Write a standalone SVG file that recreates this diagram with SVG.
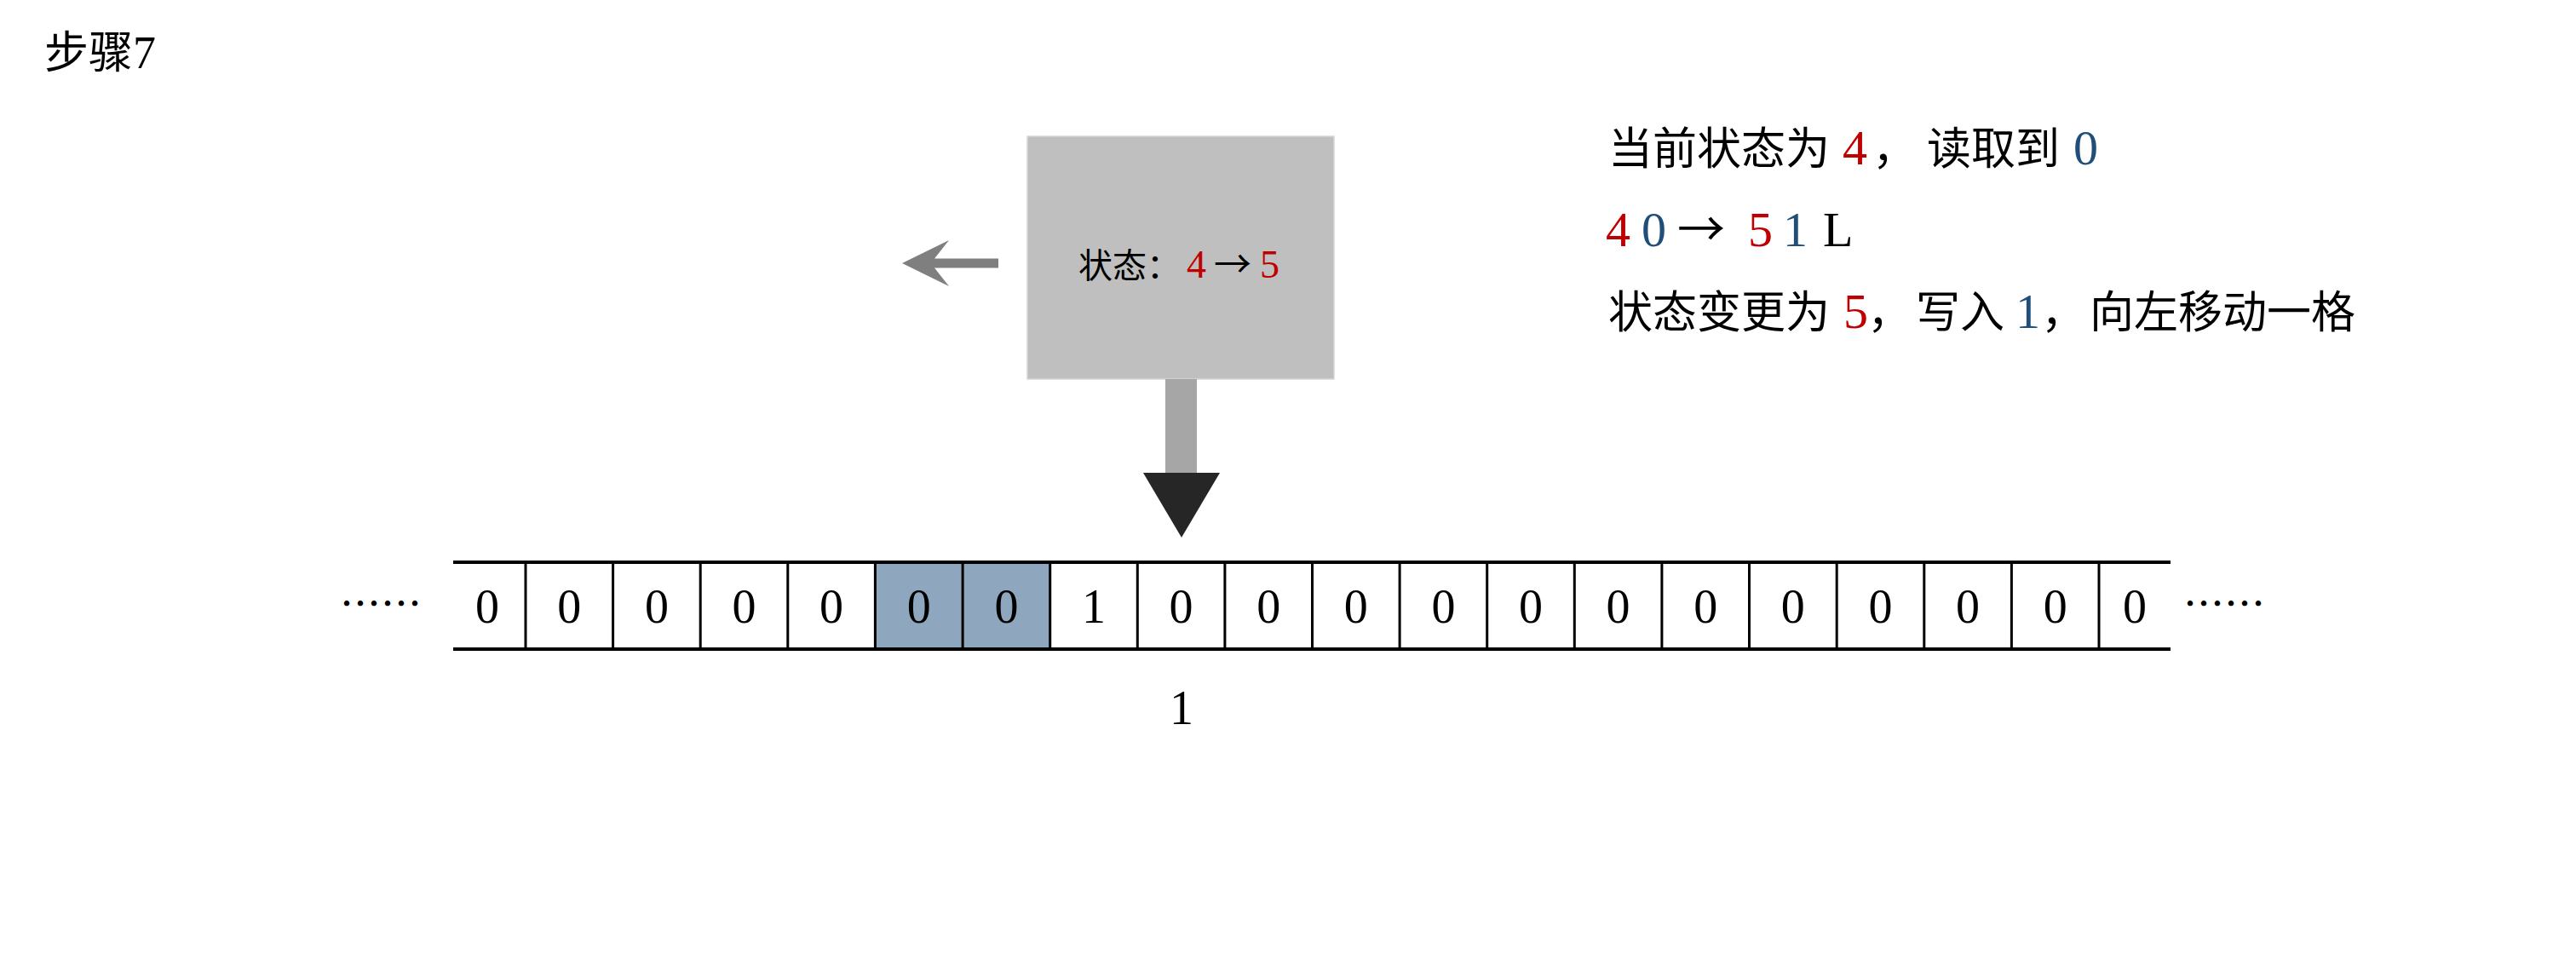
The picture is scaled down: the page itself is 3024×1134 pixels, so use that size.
<svg xmlns="http://www.w3.org/2000/svg" width="3024" height="1134" viewBox="0 0 3024 1134">
<style>
.cjk{font-family:"Noto Sans CJK SC","Noto Sans CJK TC",sans-serif;fill:#000}
.num{font-family:"Liberation Serif","Noto Sans CJK SC",serif;fill:#000}
.red{fill:#c00000}
.blue{fill:#1f4e79}
.cell{font-family:"Liberation Serif",serif;font-size:56px;text-anchor:middle;fill:#000}
.tapeh{stroke:#000;stroke-width:4;fill:none}
.div{stroke:#000;stroke-width:3;fill:none}
.dots{font-family:"Noto Sans CJK SC",sans-serif;font-size:48px;text-anchor:middle;fill:#000}
</style>
<rect x="0" y="0" width="3024" height="1134" fill="#ffffff"/>

<g id="title">
<text x="52" y="80" class="cjk" font-size="52">步骤<tspan class="num" font-size="54">7</tspan></text>
</g>

<g id="head">
<rect x="1206" y="160" width="360" height="285" fill="#bfbfbf" stroke="#d6d6d6" stroke-width="1.5"/>
<text y="326"><tspan class="cjk" x="1266" font-size="40">状态：</tspan><tspan class="num red" x="1393" font-size="46">4</tspan><tspan class="cjk" x="1425" font-size="44">→</tspan><tspan class="num red" x="1479" font-size="46">5</tspan></text>
</g>

<g id="connectors">
<polygon id="move-left" points="1059,309 1114,282 1097,303.5 1172,303.5 1172,314.5 1097,314.5 1114,336" fill="#7f7f7f"/>
<g id="read-arrow">
<rect x="1368" y="445" width="37" height="110" fill="#a6a6a6"/>
<polygon points="1342,555 1432,555 1387,631" fill="#262626"/>
</g>
</g>

<g id="explanation">
<text y="193"><tspan class="cjk" x="1888" font-size="52">当前状态为</tspan><tspan class="num red" x="2163" font-size="58">4</tspan><tspan class="cjk" x="2198" font-size="52">，</tspan><tspan class="cjk" x="2262" font-size="52">读取到</tspan><tspan class="num blue" x="2434" font-size="58">0</tspan></text>
<text y="289"><tspan class="num red" x="1885" font-size="58">4</tspan><tspan class="num blue" x="1927" font-size="58">0</tspan><tspan class="cjk" x="1969" font-size="56">→</tspan><tspan class="num red" x="2052" font-size="58">5</tspan><tspan class="num blue" x="2093" font-size="58">1</tspan><tspan class="num" x="2140" font-size="58">L</tspan></text>
<text y="385"><tspan class="cjk" x="1888" font-size="52">状态变更为</tspan><tspan class="num red" x="2164" font-size="58">5</tspan><tspan class="cjk" x="2192" font-size="52">，</tspan><tspan class="cjk" x="2249" font-size="52">写入</tspan><tspan class="num blue" x="2366" font-size="58">1</tspan><tspan class="cjk" x="2396" font-size="52">，</tspan><tspan class="cjk" x="2453" font-size="52">向左移动一格</tspan></text>
</g>

<g id="tape">
<rect x="1027.4" y="660" width="205.3" height="102" fill="#8fa7be"/>
<line class="tapeh" x1="532" y1="660" x2="2548" y2="660"/>
<line class="tapeh" x1="532" y1="762" x2="2548" y2="762"/>
<path class="div" d="M617,660V762M719.6,660V762M822.2,660V762M924.8,660V762M1027.4,660V762M1130.1,660V762M1232.7,660V762M1335.3,660V762M1437.9,660V762M1540.5,660V762M1643.1,660V762M1745.7,660V762M1848.3,660V762M1950.9,660V762M2053.5,660V762M2156.2,660V762M2258.8,660V762M2361.4,660V762M2464,660V762"/>
<text class="cell" x="572" y="731">0</text>
<text class="cell" x="668.3" y="731">0</text>
<text class="cell" x="770.9" y="731">0</text>
<text class="cell" x="873.5" y="731">0</text>
<text class="cell" x="976.1" y="731">0</text>
<text class="cell" x="1078.7" y="731">0</text>
<text class="cell" x="1181.4" y="731">0</text>
<text class="cell" x="1284" y="731">1</text>
<text class="cell" x="1386.6" y="731">0</text>
<text class="cell" x="1489.2" y="731">0</text>
<text class="cell" x="1591.8" y="731">0</text>
<text class="cell" x="1694.4" y="731">0</text>
<text class="cell" x="1797" y="731">0</text>
<text class="cell" x="1899.6" y="731">0</text>
<text class="cell" x="2002.2" y="731">0</text>
<text class="cell" x="2104.8" y="731">0</text>
<text class="cell" x="2207.5" y="731">0</text>
<text class="cell" x="2310.1" y="731">0</text>
<text class="cell" x="2412.7" y="731">0</text>
<text class="cell" x="2506" y="731">0</text>
<text class="dots" x="447" y="726">……</text>
<text class="dots" x="2611" y="726">……</text>
</g>

<g id="position-label">
<text class="cell" x="1387" y="850">1</text>
</g>
</svg>
